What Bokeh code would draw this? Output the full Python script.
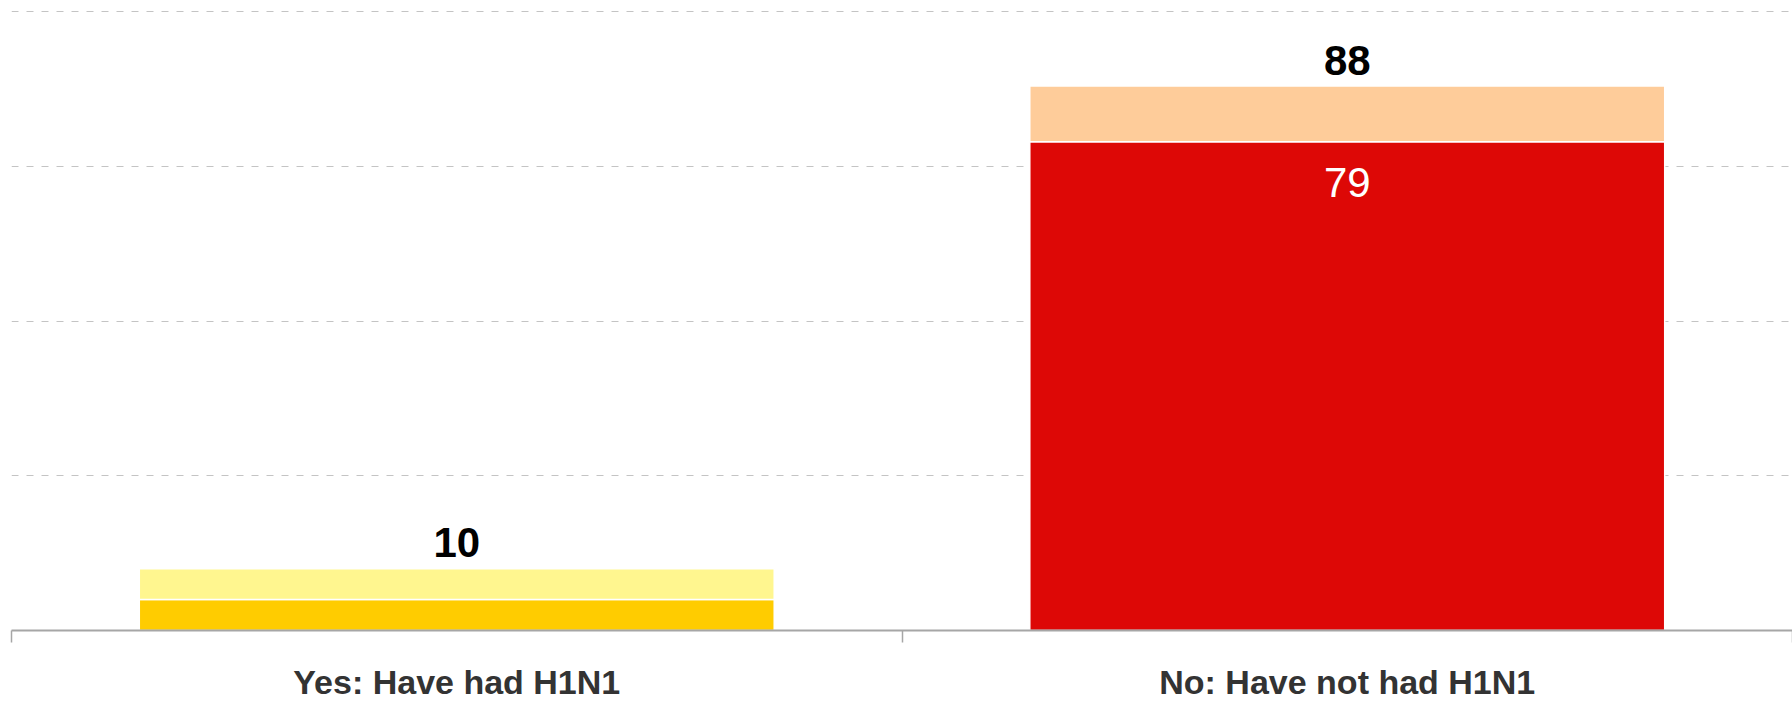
from bokeh.plotting import figure
from bokeh.layouts import column
from bokeh.models import ColumnDataSource, FixedTicker, Range1d, LinearAxis, Grid
from bokeh.core.properties import value
from bokeh.embed import file_html
from bokeh.resources import INLINE

# ---- data ----
categories = ["Yes: Have had H1N1", "No: Have not had H1N1"]
base_values = [5, 79]
total_values = [10, 88]
inner_labels = ["", "79"]
base_colors = ["#FFCC00", "#DD0806"]
top_colors = ["#FFF68F", "#FECC9A"]
grid_values = [25, 50, 75, 100]

xs = [i + 0.5 for i in range(len(categories))]

src = ColumnDataSource(dict(
    x=xs,
    base=base_values,
    total=total_values,
    zero=[0] * len(categories),
    top=[1] * len(categories),
    base_color=base_colors,
    top_color=top_colors,
    total_label=[str(v) for v in total_values],
    inner_label=inner_labels,
    category=categories,
))

x_range = Range1d(0, len(categories))

# ---- main chart ----
p = figure(width=1792, height=650, output_backend="svg", toolbar_location=None,
           x_range=x_range, y_range=Range1d(0, 101.84),
           x_axis_type=None, y_axis_type=None,
           min_border_left=11, min_border_right=0, min_border_top=0, min_border_bottom=20)
p.outline_line_color = None
p.background_fill_color = "white"
p.border_fill_color = "white"

g = Grid(dimension=1, ticker=FixedTicker(ticks=grid_values),
         grid_line_color="#c4c4c4", grid_line_dash="7 8", grid_line_width=1)
p.add_layout(g)

p.vbar(x="x", width=0.713, bottom="zero", top="base", fill_color="base_color",
       line_color="white", line_width=1.5, source=src)
p.vbar(x="x", width=0.713, bottom="base", top="total", fill_color="top_color",
       line_color="white", line_width=1.5, source=src)

p.text(x="x", y="total", text="total_label", source=src,
       text_font=value("Liberation Sans"), text_font_style="bold",
       text_font_size="42px", text_color="black",
       text_align="center", text_baseline="middle", y_offset=-26)
p.text(x="x", y="base", text="inner_label", source=src,
       text_font=value("Liberation Sans"), text_font_style="normal",
       text_font_size="42px", text_color="white",
       text_align="center", text_baseline="middle", y_offset=41)

# x axis: line plus tick marks at category boundaries
ax = LinearAxis(ticker=FixedTicker(ticks=[], minor_ticks=list(range(len(categories) + 1))))
ax.major_tick_line_color = None
ax.major_tick_out = 0
ax.major_tick_in = 0
ax.minor_tick_line_color = "#a6a6a6"
ax.minor_tick_line_width = 1.5
ax.minor_tick_out = 12
ax.minor_tick_in = 0
ax.axis_line_color = "#a6a6a6"
ax.axis_line_width = 2
ax.major_label_standoff = 0
ax.major_label_text_font_size = "1px"
p.add_layout(ax, "below")

# ---- category label strip ----
q = figure(width=1792, height=51, output_backend="svg", toolbar_location=None,
           x_range=x_range, y_range=Range1d(0, 1),
           x_axis_type=None, y_axis_type=None,
           min_border_left=11, min_border_right=0, min_border_top=0, min_border_bottom=0)
q.outline_line_color = None
q.grid.visible = False
q.background_fill_color = "white"
q.border_fill_color = "white"
q.text(x="x", y="top", text="category", source=src,
       text_font=value("Liberation Sans"), text_font_style="bold",
       text_font_size="34px", text_color="#333333",
       text_align="center", text_baseline="middle", y_offset=31)

layout = column(p, q, spacing=0)
open("out.html", "w").write(file_html(layout, INLINE))
